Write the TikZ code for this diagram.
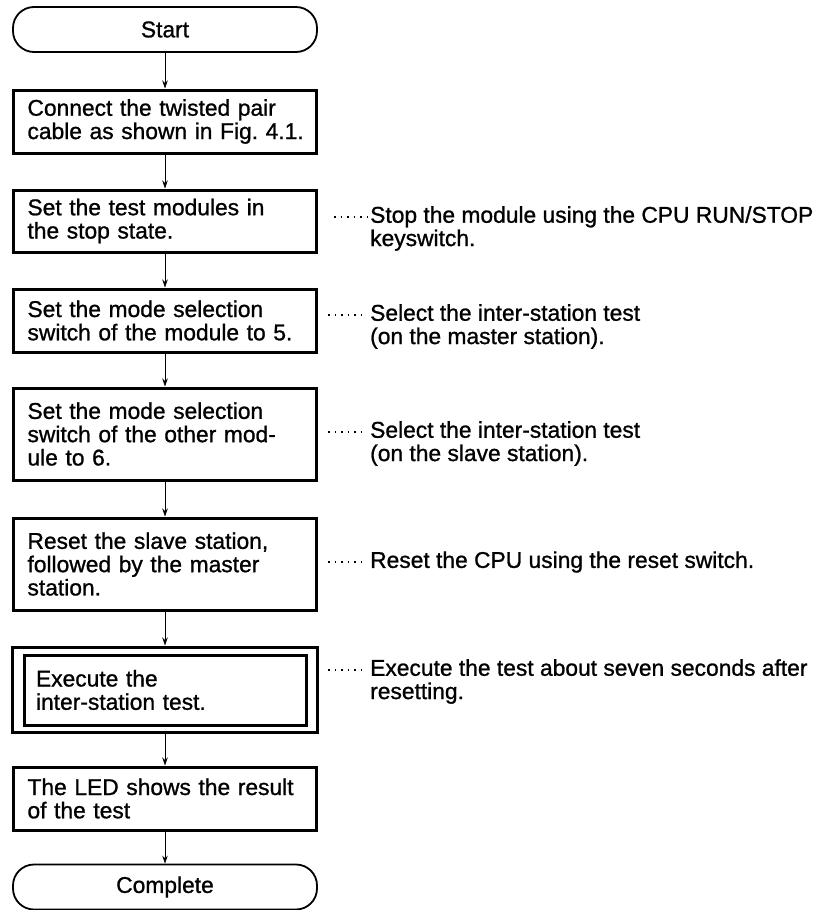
\documentclass[tikz,border=0pt]{standalone}
\usepackage{fontspec}
\setmainfont{Liberation Sans}
\newfontfamily\diafont{Liberation Sans}[FakeBold=1.0]
\usetikzlibrary{arrows.meta}
\begin{document}
\begin{tikzpicture}[x=1pt,y=-1pt,
  font=\diafont\fontsize{22.8}{23.3}\selectfont,
  stepbox/.style={draw, line width=3pt, minimum width=303pt, text width=275pt,
    inner xsep=14pt, inner ysep=0pt, align=left},
  term/.style={draw, line width=1.8pt, rounded corners=21pt, minimum width=304pt,
    minimum height=45pt, inner sep=0pt},
  flow/.style={line width=0.8pt, -{Stealth[length=8pt,width=5.5pt]}},
  note/.style={anchor=west, align=left, inner sep=0pt},
  leader/.style={line width=1.7pt, dash pattern=on 1.7pt off 4.8pt}
]
\useasboundingbox (0,0) rectangle (825,910);

% flow column
\node[term] (start) at (165,29.5) {Start};
\node[stepbox, minimum height=63pt] (b1) at (165,121.5)
  {\mbox{Connect the twisted pair}\\\mbox{cable as shown in Fig.~4.1.}};
\node[stepbox, minimum height=62pt] (b2) at (165,221)
  {\mbox{Set the test modules in}\\\mbox{the stop state.}};
\node[stepbox, minimum height=63pt] (b3) at (165,320.5)
  {\mbox{Set the mode selection}\\\mbox{switch of the module to 5.}};
\node[stepbox, minimum height=92pt] (b4) at (165,434)
  {\mbox{Set the mode selection}\\\mbox{switch of the other mod-}\\\mbox{ule to 6.}};
\node[stepbox, minimum height=92pt] (b5) at (165,564)
  {\mbox{Reset the slave station,}\\\mbox{followed by the master}\\\mbox{station.}};
\node[draw, line width=3pt, minimum width=305pt, minimum height=85pt, inner sep=0pt]
  (b6) at (165,689.5) {};
\node[stepbox, minimum width=282pt, text width=258pt, inner xsep=12pt,
  minimum height=70pt] (b6i) at (165,690)
  {\mbox{Execute the}\\\mbox{inter-station test.}};
\node[stepbox, minimum height=63pt] (b7) at (165,798.5)
  {\mbox{The LED shows the result}\\\mbox{of the test}};
\node[term] (end) at (165,887) {Complete};

\draw[flow] (start.south) -- (b1.north);
\draw[flow] (b1.south) -- (b2.north);
\draw[flow] (b2.south) -- (b3.north);
\draw[flow] (b3.south) -- (b4.north);
\draw[flow] (b4.south) -- (b5.north);
\draw[flow] (b5.south) -- (b6.north);
\draw[flow] (b6.south) -- (b7.north);
\draw[flow] (b7.south) -- (end.north);

% notes
\node[note] (n2) at (370,228.5)
  {Stop the module using the CPU RUN/STOP\\keyswitch.};
\node[note] (n3) at (370,326.5)
  {Select the inter-station test\\(on the master station).};
\node[note] (n4) at (370,443.5)
  {Select the inter-station test\\(on the slave station).};
\node[note] (n5) at (370,562)
  {Reset the CPU using the reset switch.};
\node[note] (n6) at (370,681.5)
  {Execute the test about seven seconds after\\resetting.};

\coordinate (d2) at (334,217);
\coordinate (d3) at (328,315);
\coordinate (d4) at (328,432);
\coordinate (d5) at (328,562);
\coordinate (d6) at (328,670);
\foreach \d in {d2,d3,d4,d5,d6}
  \draw[leader] (\d) -- ++(34,0);
\end{tikzpicture}
\end{document}
